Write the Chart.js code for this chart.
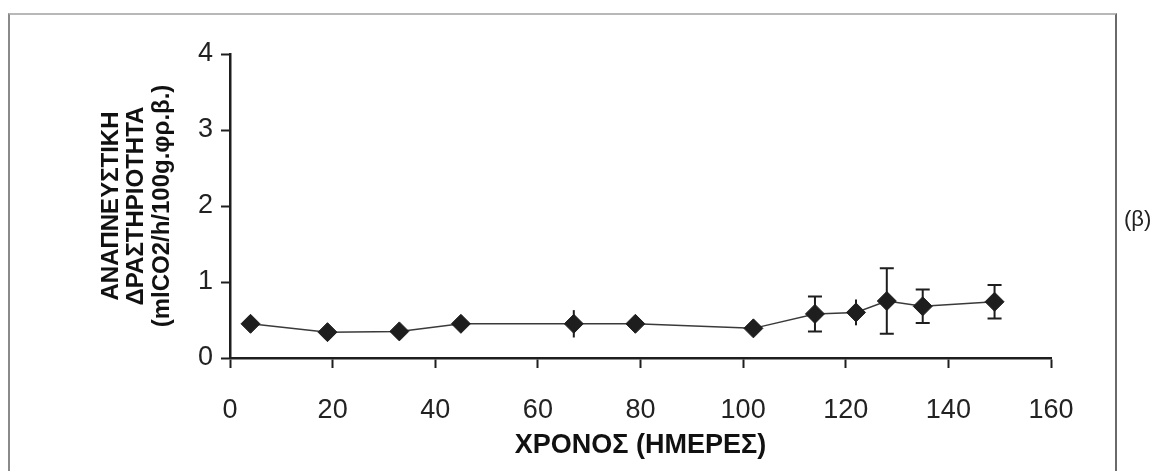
<!DOCTYPE html>
<html lang="el">

<head>
    <meta charset="UTF-8">
    <title>Αναπνευστική δραστηριότητα</title>
    <script src="https://cdn.jsdelivr.net/npm/chart.js"></script>
    <style>
        body {
            margin: 0;
            padding: 0;
            background: #fff;
            font-family: "Liberation Sans", Arial, sans-serif;
        }

        .wrap {
            position: relative;
            width: 1158px;
            height: 471px;
            overflow: hidden;
        }

        /* πλαίσιο του σκαναρισμένου σχήματος */
        .frame {
            position: absolute;
            left: 8px;
            top: 13px;
            width: 1105px;
            height: 470px;
            border-left: 2px solid #8a8a8a;
            border-top: 2px solid #b8b8b8;
            border-right: 2px solid #6a6a6a;
        }

        .tag {
            position: absolute;
            left: 1124px;
            top: 206px;
            font-size: 22px;
            color: #222;
        }

        canvas {
            position: absolute;
            left: 0;
            top: 0;
        }
    </style>
</head>

<body>
    <div class="wrap">
        <div class="frame"></div>
        <canvas id="chart" width="1158" height="471"></canvas>
        <div class="tag">(β)</div>
    </div>

    <script>
        // Δεδομένα (διαβασμένα από το σχήμα)
        const days = [4, 19, 33, 45, 67, 79, 102, 114, 122, 128, 135, 149];
        const activity = [0.45, 0.34, 0.35, 0.45, 0.45, 0.45, 0.39, 0.58, 0.60, 0.75, 0.68, 0.74];
        const errors = [0, 0, 0, 0, 0.18, 0, 0, 0.23, 0.17, 0.43, 0.22, 0.22];
        const errCaps = [false, false, false, false, false, false, false, true, false, true, true, true];

        const xTicks = [0, 20, 40, 60, 80, 100, 120, 140, 160];
        const yTicks = [0, 1, 2, 3, 4];

        const xTitle = 'ΧΡΟΝΟΣ (ΗΜΕΡΕΣ)';
        const yTitle = ['ΑΝΑΠΝΕΥΣΤΙΚΗ', 'ΔΡΑΣΤΗΡΙΟΤΗΤΑ', '(mlCO2/h/100g.φρ.β.)'];

        const ink = '#1e1e1e';

        // μπάρες σφάλματος
        const errorBars = {
            id: 'errorBars',
            afterDatasetsDraw(chart) {
                const ctx = chart.ctx;
                const xs = chart.scales.x;
                const ys = chart.scales.y;
                ctx.save();
                ctx.strokeStyle = ink;
                ctx.lineWidth = 2;
                days.forEach(function (d, i) {
                    if (!errors[i]) return;
                    const x = xs.getPixelForValue(d);
                    const top = ys.getPixelForValue(activity[i] + errors[i]);
                    const bot = ys.getPixelForValue(activity[i] - errors[i]);
                    ctx.beginPath();
                    ctx.moveTo(x, top);
                    ctx.lineTo(x, bot);
                    if (errCaps[i]) {
                        ctx.moveTo(x - 7, top);
                        ctx.lineTo(x + 7, top);
                        ctx.moveTo(x - 7, bot);
                        ctx.lineTo(x + 7, bot);
                    }
                    ctx.stroke();
                });
                ctx.restore();
            }
        };

        new Chart(document.getElementById('chart'), {
            type: 'scatter',
            data: {
                datasets: [{
                    data: days.map((d, i) => ({ x: d, y: activity[i] })),
                    showLine: true,
                    borderColor: '#3a3a3a',
                    borderWidth: 1.5,
                    pointStyle: 'rectRot',
                    pointRadius: 9.5,
                    pointBackgroundColor: ink,
                    pointBorderColor: ink,
                    pointBorderWidth: 1
                }]
            },
            options: {
                responsive: false,
                animation: false,
                layout: { padding: { left: 95, right: 107, top: 54, bottom: 0 } },
                plugins: {
                    legend: { display: false },
                    tooltip: { enabled: false }
                },
                scales: {
                    x: {
                        type: 'linear',
                        min: 0,
                        max: 160,
                        afterBuildTicks(scale) { scale.ticks = xTicks.map(v => ({ value: v })); },
                        afterFit(scale) { scale.height = 113; },
                        border: { color: ink, width: 2.5 },
                        grid: { drawOnChartArea: false, tickLength: 10, color: ink, tickWidth: 2 },
                        ticks: { color: '#222', padding: 26, font: { family: 'Liberation Sans', size: 27 } },
                        title: {
                            display: true,
                            text: xTitle,
                            color: '#111',
                            font: { family: 'Liberation Sans', size: 27, weight: 'bold' },
                            padding: { top: 4, bottom: 9 }
                        }
                    },
                    y: {
                        min: 0,
                        max: 4,
                        afterBuildTicks(scale) { scale.ticks = yTicks.map(v => ({ value: v })); },
                        afterFit(scale) { scale.width = 135; },
                        border: { color: ink, width: 2.5 },
                        grid: { drawOnChartArea: false, tickLength: 9, color: ink, tickWidth: 2 },
                        ticks: { color: '#222', padding: 8, font: { family: 'Liberation Sans', size: 27 } },
                        title: {
                            display: true,
                            text: yTitle,
                            color: '#111',
                            font: { family: 'Liberation Sans', size: 24, weight: 'bold', lineHeight: 1.05 },
                            padding: { top: 4, bottom: 0 }
                        }
                    }
                }
            },
            plugins: [errorBars]
        });
    </script>
</body>

</html>
